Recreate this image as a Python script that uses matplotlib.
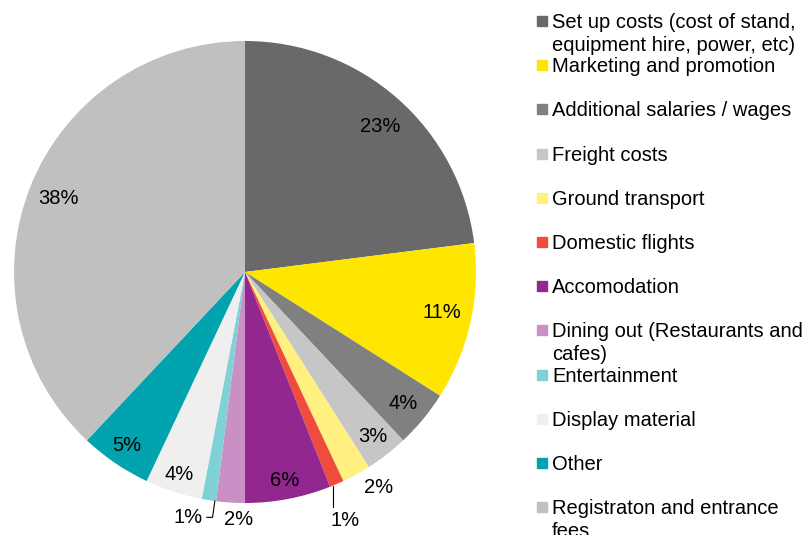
import matplotlib.pyplot as plt
import numpy as np

plt.rcParams['font.family'] = ['Liberation Sans', 'DejaVu Sans']

categories = ['Set up costs (cost of stand,\nequipment hire, power, etc)',
              'Marketing and promotion',
              'Additional salaries / wages',
              'Freight costs',
              'Ground transport',
              'Domestic flights',
              'Accomodation',
              'Dining out (Restaurants and\ncafes)',
              'Entertainment',
              'Display material',
              'Other',
              'Registraton and entrance\nfees']
shares = [23, 11, 4, 3, 2, 1, 6, 2, 1, 4, 5, 38]
colors = ['#696969', '#FFE600', '#808080', '#C6C6C6', '#FFF07F', '#F04C3E',
          '#91278F', '#C890C4', '#80D1D6', '#EFEFEF', '#00A3AE', '#C0C0C0']

W, H = 812, 535
R = 231          # pie radius in px
cx, cy = 245, 263  # pie centre in px from bottom-left
k = 1.3
FS = 14.5

fig = plt.figure(figsize=(W / 100, H / 100), dpi=100)
ax = fig.add_axes([(cx - R * k) / W, (cy - R * k) / H, 2 * R * k / W, 2 * R * k / H])

wedges, _ = ax.pie(shares, colors=colors, startangle=90, counterclock=False,
                   radius=1, wedgeprops=dict(linewidth=0))
ax.set_xlim(-k, k)
ax.set_ylim(-k, k)
ax.axis('off')

# label radius per slice (fraction of radius); >1 means outside
label_r = [0.86, 0.87, 0.89, 0.9, 1.1, 1.16, 0.92, 1.07, 1.09, 0.92, 0.91, 0.87]
# small angular nudges in degrees (clockwise)
nudge = [1.5, -1, 0, 0, -3, 1.5, 0, -2, 4, 0, 0, 0]

total = sum(shares)
cum = np.cumsum([0] + shares[:-1])
mids = [(cum[i] + s / 2) / total * 360 for i, s in enumerate(shares)]
for i, s in enumerate(shares):
    a = np.deg2rad(mids[i] + nudge[i])
    x, y = label_r[i] * np.sin(a), label_r[i] * np.cos(a)
    ax.text(x, y, f'{s}%', ha='center', va='center', fontsize=FS, clip_on=False)

# leader lines for the two small outside labels
# domestic flights: straight down from the wedge edge
a = np.deg2rad(mids[5] + 1)
lab_y = label_r[5] * np.cos(np.deg2rad(mids[5] + nudge[5]))
ax.plot([np.sin(a), np.sin(a)], [np.cos(a), lab_y + 0.06], color='black', lw=0.8,
        clip_on=False)
# entertainment: down then left
a = np.deg2rad(mids[8] - 1.5)
b = np.deg2rad(mids[8] + nudge[8])
lab_x, lab_y = label_r[8] * np.sin(b), label_r[8] * np.cos(b)
ax.plot([np.sin(a), np.sin(a) - 0.01, lab_x + 0.08],
        [np.cos(a), lab_y, lab_y], color='black', lw=0.8, clip_on=False)

# legend drawn manually, one text per line so the marker sits on the first line
lx, ly0, step, line_h = 537, 21, 44.2, 23
for i, (lab, c) in enumerate(zip(categories, colors)):
    yc = ly0 + i * step
    fig.patches.append(plt.Rectangle((lx / W, 1 - (yc + 5) / H), 10 / W, 10 / H,
                                     transform=fig.transFigure, color=c))
    for j, line in enumerate(lab.split('\n')):
        fig.text(552 / W, 1 - (yc + 7 + j * line_h) / H, line, ha='left',
                 va='baseline', fontsize=FS)

fig.savefig('out.png', dpi=100)
